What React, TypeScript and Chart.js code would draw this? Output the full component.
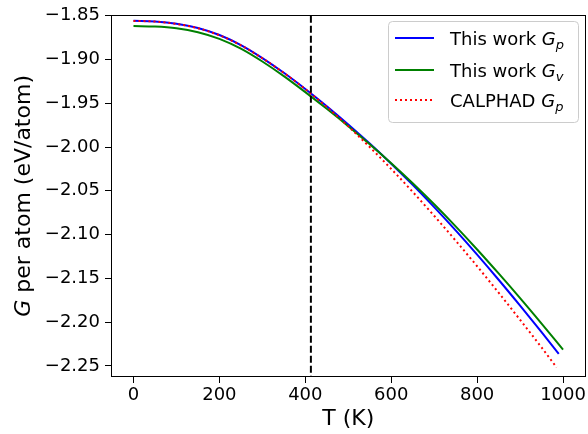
import React, { useEffect, useRef } from 'react';
import { Chart, registerables } from 'chart.js';
Chart.register(...registerables);

// Temperatures (K) and Gibbs energies (eV/atom)
const tBlue = [0, 50, 100, 150, 200, 250, 300, 350, 400, 450, 500, 550, 600, 650, 700, 750, 800, 850, 900, 950, 990];
const gBlue = [-1.8556, -1.8564, -1.8590, -1.8640, -1.8720, -1.8835, -1.8983, -1.9151, -1.9336, -1.9533, -1.9741, -1.9960, -2.0190, -2.0432, -2.0686, -2.0952, -2.1229, -2.1516, -2.1812, -2.2115, -2.2362];

const tGreen = [0, 50, 100, 150, 200, 250, 300, 350, 400, 450, 500, 550, 600, 650, 700, 750, 800, 850, 900, 950, 1000];
const gGreen = [-1.8617, -1.8622, -1.8642, -1.8687, -1.8763, -1.8875, -1.9022, -1.9189, -1.9372, -1.9563, -1.9761, -1.9968, -2.0185, -2.0414, -2.0654, -2.0906, -2.1170, -2.1444, -2.1726, -2.2017, -2.2314];

const tRed = [0, 50, 100, 150, 200, 250, 300, 350, 400, 450, 500, 550, 600, 650, 700, 750, 800, 850, 900, 950, 985];
const gRed = [-1.8558, -1.8566, -1.8592, -1.8642, -1.8722, -1.8837, -1.8985, -1.9153, -1.9338, -1.9541, -1.9763, -2.0000, -2.0250, -2.0512, -2.0785, -2.1069, -2.1362, -2.1664, -2.1974, -2.2290, -2.2518];

const vLineT = 413;
const xTicks = [0, 200, 400, 600, 800, 1000];
const yTicks = [-1.85, -1.9, -1.95, -2.0, -2.05, -2.1, -2.15, -2.2, -2.25];
const xRange = [-50, 1050];
const yRange = [-2.2616, -1.85];

const legendItems = [
  { label: 'This work ', sub: 'p', color: '#0000ff', dash: [] as number[] },
  { label: 'This work ', sub: 'v', color: '#008000', dash: [] as number[] },
  { label: 'CALPHAD ', sub: 'p', color: '#ff0000', dash: [2, 3] },
];

const FONT = '"DejaVu Sans", sans-serif';

const pts = (xs: number[], ys: number[]) => xs.map((x, i) => ({ x, y: ys[i] }));

const decorPlugin = {
  id: 'decor',
  afterDraw(chart: any) {
    const { ctx, chartArea } = chart;
    const { left, right, top, bottom } = chartArea;
    ctx.save();
    // spines
    ctx.strokeStyle = '#000';
    ctx.lineWidth = 1;
    ctx.strokeRect(Math.round(left) - 0.5, Math.round(top) - 0.5, Math.round(right - left) + 1, Math.round(bottom - top) + 1);

    // x title
    ctx.fillStyle = '#000';
    ctx.font = `22px ${FONT}`;
    ctx.textAlign = 'center';
    ctx.textBaseline = 'middle';
    ctx.fillText('T (K)', (left + right) / 2, 419);

    // y title with italic G
    ctx.save();
    ctx.translate(24, (top + bottom) / 2);
    ctx.rotate(-Math.PI / 2);
    ctx.textAlign = 'left';
    ctx.textBaseline = 'middle';
    const italic = `italic 22px ${FONT}`;
    const normal = `22px ${FONT}`;
    ctx.font = italic;
    const wG = ctx.measureText('G').width;
    ctx.font = normal;
    const rest = ' per atom (eV/atom)';
    const wR = ctx.measureText(rest).width;
    const start = -(wG + wR) / 2;
    ctx.font = italic;
    ctx.fillText('G', start, 0);
    ctx.font = normal;
    ctx.fillText(rest, start + wG, 0);
    ctx.restore();

    // legend
    const bx = 388, by = 21, bw = 190, bh = 101;
    ctx.beginPath();
    (ctx as any).roundRect(bx + 0.5, by + 0.5, bw, bh, 4);
    ctx.fillStyle = 'rgba(255,255,255,0.8)';
    ctx.fill();
    ctx.strokeStyle = '#cccccc';
    ctx.lineWidth = 1;
    ctx.stroke();
    const rows = [38, 70, 100];
    legendItems.forEach((it, i) => {
      const y = rows[i];
      ctx.beginPath();
      ctx.strokeStyle = it.color;
      ctx.lineWidth = 2;
      ctx.setLineDash(it.dash);
      ctx.moveTo(395, y);
      ctx.lineTo(434, y);
      ctx.stroke();
      ctx.setLineDash([]);
      ctx.fillStyle = '#000';
      ctx.textAlign = 'left';
      ctx.textBaseline = 'alphabetic';
      const base = y + 7;
      ctx.font = `18px ${FONT}`;
      ctx.fillText(it.label, 450, base);
      let x = 450 + ctx.measureText(it.label).width;
      ctx.font = `italic 18px ${FONT}`;
      ctx.fillText('G', x, base);
      x += ctx.measureText('G').width;
      ctx.font = `italic 13px ${FONT}`;
      ctx.fillText(it.sub, x, base + 4);
    });
    ctx.restore();
  },
};

export default function App() {
  const ref = useRef<HTMLCanvasElement | null>(null);
  useEffect(() => {
    document.body.style.margin = '0';
    const canvas = ref.current;
    if (!canvas) return;
    const chart = new Chart(canvas, {
      type: 'line',
      data: {
        datasets: [
          {
            label: 'vline',
            data: [{ x: vLineT, y: yRange[1] }, { x: vLineT, y: yRange[0] }],
            borderColor: '#000',
            borderWidth: 2,
            borderDash: [7, 3],
            pointRadius: 0,
          },
          {
            label: 'CALPHAD Gp',
            data: pts(tRed, gRed),
            borderColor: '#ff0000',
            borderWidth: 2,
            borderDash: [2, 3],
            pointRadius: 0,
            cubicInterpolationMode: 'monotone',
          },
          {
            label: 'This work Gv',
            data: pts(tGreen, gGreen),
            borderColor: '#008000',
            borderWidth: 2,
            pointRadius: 0,
            cubicInterpolationMode: 'monotone',
          },
          {
            label: 'This work Gp',
            data: pts(tBlue, gBlue),
            borderColor: '#0000ff',
            borderWidth: 2,
            pointRadius: 0,
            cubicInterpolationMode: 'monotone',
          },
        ],
      },
      options: {
        animation: false,
        responsive: false,
        devicePixelRatio: 1,
        layout: { padding: { top: 11, right: 1, left: 0, bottom: 0 } },
        plugins: { legend: { display: false }, tooltip: { enabled: false } },
        scales: {
          x: {
            type: 'linear',
            min: xRange[0],
            max: xRange[1],
            border: { display: false },
            grid: { display: true, drawOnChartArea: false, drawTicks: true, tickLength: 7, color: '#000', lineWidth: 1 },
            ticks: {
              color: '#000',
              font: { family: FONT, size: 18 },
              padding: 2,
              maxRotation: 0,
              autoSkip: false,
              callback: (v: any) => String(v),
            },
            afterBuildTicks: (s: any) => { s.ticks = xTicks.map((v) => ({ value: v })); },
            afterFit: (s: any) => { s.height = 58; },
          },
          y: {
            type: 'linear',
            min: yRange[0],
            max: yRange[1],
            border: { display: false },
            grid: { display: true, drawOnChartArea: false, drawTicks: true, tickLength: 7, color: '#000', lineWidth: 1 },
            ticks: {
              color: '#000',
              font: { family: FONT, size: 18 },
              padding: 5,
              autoSkip: false,
              callback: (v: any) => (v < 0 ? '\u2212' : '') + Math.abs(Number(v)).toFixed(2),
            },
            afterBuildTicks: (s: any) => { s.ticks = yTicks.map((v) => ({ value: v })); },
            afterFit: (s: any) => { s.width = 112; },
          },
        },
      },
      plugins: [decorPlugin],
    } as any);
    return () => chart.destroy();
  }, []);
  return (
    <div style={{ width: 588, height: 434 }}>
      <canvas ref={ref} width={588} height={434} />
    </div>
  );
}
